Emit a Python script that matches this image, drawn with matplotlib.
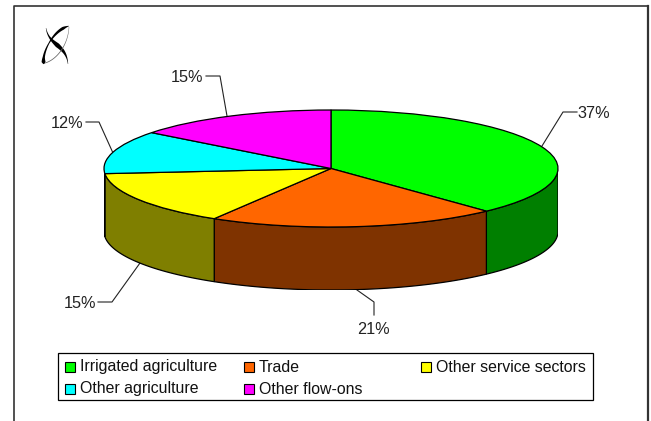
import numpy as np
import matplotlib
matplotlib.use("Agg")
import matplotlib.pyplot as plt
from matplotlib.patches import Polygon, Rectangle

plt.rcParams["font.family"] = ["Liberation Sans", "DejaVu Sans"]

categories = ["Irrigated agriculture", "Trade", "Other service sectors", "Other agriculture", "Other flow-ons"]
# wedge sizes as drawn (the printed labels are rounded a bit differently)
shares = [38.0, 20.6, 15.0, 11.9, 14.5]
share_labels = ["37%", "21%", "15%", "12%", "15%"]
top_colors = ["#00FF00", "#FF6600", "#FFFF00", "#00FFFF", "#FF00FF"]
side_colors = ["#007F00", "#7F3300", "#7F7F00", "#007F7F", "#7F007F"]

W, H = 651, 421
CX, CY = 331, 168.5
RX, RY = 227, 58.5
DEPTH = 63


def px_box(x0, y0, x1, y1):
    return [x0 / W, 1 - y1 / H, (x1 - x0) / W, (y1 - y0) / H]


def ellipse_pts(a0, a1, dy=0.0):
    # angles clockwise from 12 o'clock, unit-circle coords of the pie axes
    t = np.radians(np.linspace(a0, a1, 60))
    return np.column_stack([np.sin(t), np.cos(t) - dy])


def brush(ctrl, t_w, w, color):
    # cubic bezier filled with a varying width, for the logo
    p = np.array(ctrl, dtype=float)
    t = np.linspace(0, 1, 80)[:, None]
    c = (1 - t) ** 3 * p[0] + 3 * (1 - t) ** 2 * t * p[1] + 3 * (1 - t) * t ** 2 * p[2] + t ** 3 * p[3]
    d = np.gradient(c, axis=0)
    n = np.column_stack([-d[:, 1], d[:, 0]]) / np.hypot(d[:, 0], d[:, 1])[:, None]
    half = np.interp(t[:, 0], t_w, w)[:, None] / 2
    return Polygon(np.vstack([c + n * half, (c - n * half)[::-1]]), closed=True,
                   facecolor=color, edgecolor="none", zorder=4)


fig = plt.figure(figsize=(W / 100, H / 100), dpi=100)

# overlay in pixel coords for frame, leaders and text
ov = fig.add_axes([0, 0, 1, 1])
ov.set_xlim(0, W)
ov.set_ylim(H, 0)
ov.axis("off")
ov.plot([13.5, 13.5, 648], [H, 6, 6], color="#333333", lw=1.2)
ov.plot([648, 648], [6, H], color="#333333", lw=1.6)

# pie
depth_u = DEPTH / RY
ax = fig.add_axes(px_box(CX - RX, CY - RY, CX + RX, CY + RY + DEPTH))
wedges, _ = ax.pie(shares, colors=top_colors, startangle=90, counterclock=False,
                   radius=1.0, wedgeprops=dict(edgecolor="black", linewidth=0.9, zorder=5))
ax.set_aspect("auto")
ax.set_xlim(-1, 1)
ax.set_ylim(-1 - depth_u, 1)
ax.axis("off")

# side walls of the front half
edges = np.concatenate([[0], np.cumsum(shares)]) / np.sum(shares) * 360
for i, col in enumerate(side_colors):
    a0, a1 = max(edges[i], 90), min(edges[i + 1], 270)
    if a1 <= a0:
        continue
    pts = np.vstack([ellipse_pts(a0, a1), ellipse_pts(a1, a0, depth_u)])
    ax.add_patch(Polygon(pts, closed=True, facecolor=col, edgecolor="black", lw=0.9, zorder=2))

# leader lines and percent labels
leaders = [
    [(542, 146), (563, 112), (577, 112)],
    [(357, 290), (374, 302), (374, 315)],
    [(140, 263), (112, 302), (98, 302)],
    [(113, 153), (99, 122), (86, 122)],
    [(227, 116), (220, 76), (206, 76)],
]
label_pos = [(594, 113), (373, 330), (80, 303), (67, 123), (187, 77)]
for line, pos, txt in zip(leaders, label_pos, share_labels):
    ov.plot(*zip(*line), color="#222222", lw=0.8, zorder=6)
    ov.text(pos[0], pos[1], txt, ha="center", va="center", fontsize=11.7, color="#222222")

# logo: two crossed swooshes and a thin grey one
ov.add_patch(brush([(69, 26), (52, 30), (41, 55), (44, 64)],
                   [0, .12, .3, .5, .8, .93, 1], [.3, 3, 2.2, 1, 2.2, 4, 1], "black"))
ov.add_patch(brush([(46, 28), (49, 46), (66, 44), (68, 64)],
                   [0, .2, .5, .7, .9, 1], [.3, 1.5, 4.5, 3, 1, .3], "black"))
ov.add_patch(brush([(45, 63), (56, 60), (68, 46), (69, 27)],
                   [0, .5, 1], [.8, .8, .4], "#666666"))

# legend, hand placed like the Excel one
ov.add_patch(Rectangle((58, 353), 535, 47, facecolor="white", edgecolor="black", lw=0.9))
legend_x = [65, 244, 421]
legend_y = [367, 389]
for i, name in enumerate(categories):
    x = legend_x[i % 3]
    y = legend_y[i // 3]
    ov.add_patch(Rectangle((x, y - 5), 10, 10, facecolor=top_colors[i], edgecolor="black", lw=0.8))
    ov.text(x + 15, y, name, ha="left", va="center", fontsize=11.45, color="#111111")

fig.savefig("out.png", dpi=100)
